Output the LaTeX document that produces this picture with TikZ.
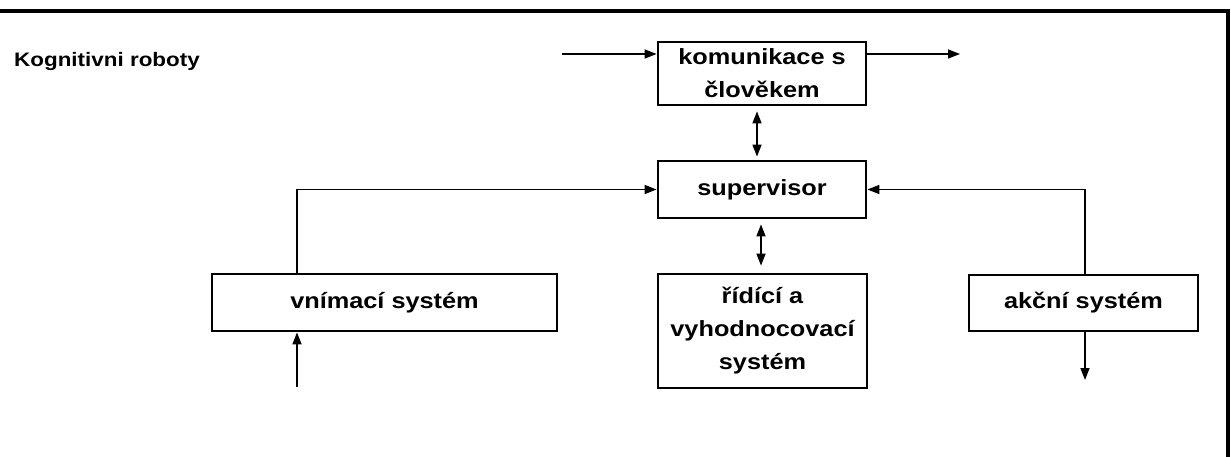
\documentclass[tikz,border=0pt]{standalone}
\usepackage{fontspec}
\setmainfont{Liberation Sans}[FakeStretch=1.15]
\usetikzlibrary{arrows.meta}
\begin{document}
\begin{tikzpicture}[x=1pt,y=-1pt,
  box/.style={draw, line width=2.8pt, inner sep=0pt, align=center,
    font=\fontsize{22}{33}\selectfont\bfseries},
  conn/.style={line width=1.5pt, -{Triangle[length=12pt,width=9pt]}},
  dbl/.style={line width=1.5pt, {Triangle[length=12pt,width=9pt]}-{Triangle[length=12pt,width=9pt]}},
  titlefont/.style={font=\fontsize{19.5}{24}\selectfont\bfseries}
]
\useasboundingbox (0,0) rectangle (1231,457);
\draw[line width=4pt] (0,11) -- (1228,11) -- (1228,457);

\node[titlefont, anchor=base west, inner sep=0pt] (title) at (14,67) {Kognitivni roboty};

\node[box, minimum width=208pt, minimum height=63pt] (kom) at (762,73.5) {komunikace s\\člověkem};
\node[box, minimum width=208pt, minimum height=57pt] (sup) at (762,189.5) {\raisebox{-2pt}{supervisor}};
\node[box, minimum width=345pt, minimum height=57pt] (vni) at (384.5,302.5) {\raisebox{-2pt}{vnímací systém}};
\node[box, minimum width=209pt, minimum height=114pt] (rid) at (762.5,331) {řídící a\\vyhodnocovací\\systém};
\node[box, minimum width=229pt, minimum height=56pt] (akc) at (1083.5,303) {\raisebox{-2pt}{akční systém}};

\coordinate (kin) at (562,54);
\coordinate (kout) at (960,54);
\coordinate (vx) at (297,0);
\coordinate (ax) at (1085,0);
\coordinate (vin) at (297,387);
\coordinate (aout) at (1085,380);

\draw[conn] (kin) -- (kin -| kom.west);
\draw[conn] (kin -| kom.east) -- (kout);
\draw[dbl, shorten <=5pt, shorten >=3pt] ([xshift=-5pt]kom.south) -- ([xshift=-5pt]sup.north);
\draw[dbl, shorten <=5pt, shorten >=7pt] ([xshift=-1pt]sup.south) -- ([xshift=-1.5pt]rid.north);
\draw[conn] (vni.north -| vx) |- (sup.west);
\draw[conn] (akc.north -| ax) |- (sup.east);
\draw[conn] (vin) -- (vin |- vni.south);
\draw[conn] (aout |- akc.south) -- (aout);
\end{tikzpicture}
\end{document}
